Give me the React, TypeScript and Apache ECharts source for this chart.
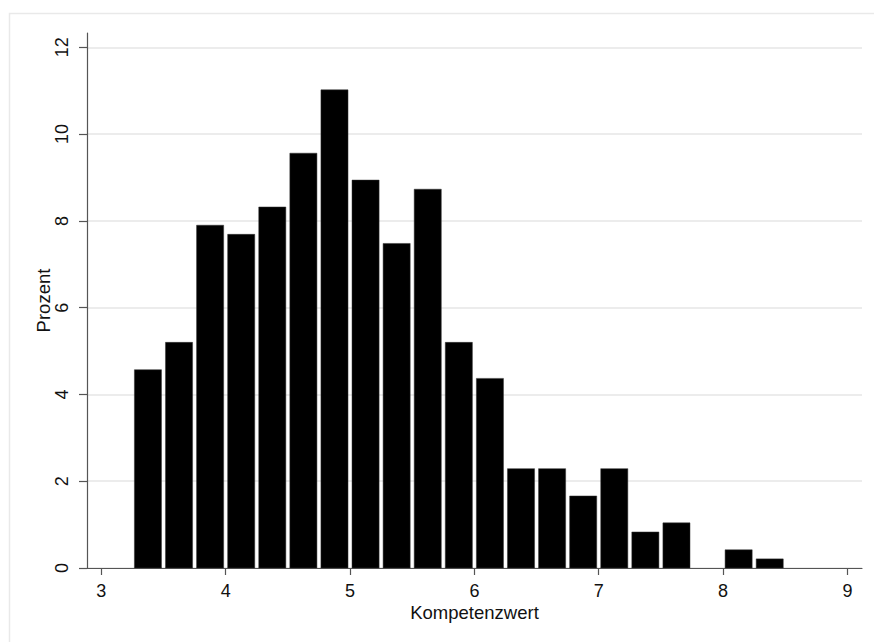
import React, { useEffect, useRef } from "react";
import * as echarts from "echarts";

// Histogram bins (left/right edges) and percentage heights
const binStarts = [3.25, 3.5, 3.75, 4.0, 4.25, 4.5, 4.75, 5.0, 5.25, 5.5, 5.75, 6.0, 6.25, 6.5, 6.75, 7.0, 7.25, 7.5, 7.75, 8.0, 8.25];
const binEnds = [3.5, 3.75, 4.0, 4.25, 4.5, 4.75, 5.0, 5.25, 5.5, 5.75, 6.0, 6.25, 6.5, 6.75, 7.0, 7.25, 7.5, 7.75, 8.0, 8.25, 8.5];
const percents = [4.57, 5.2, 7.9, 7.69, 8.32, 9.56, 11.02, 8.94, 7.48, 8.73, 5.2, 4.37, 2.29, 2.29, 1.66, 2.29, 0.83, 1.04, 0, 0.42, 0.21];

const xTicks = [3, 4, 5, 6, 7, 8, 9];
const yTicks = [0, 2, 4, 6, 8, 10, 12];

const xTitle = "Kompetenzwert";
const yTitle = "Prozent";

const FONT = "'Liberation Sans', Arial, Helvetica, sans-serif";

export default function App() {
  const ref = useRef<HTMLDivElement>(null);

  useEffect(() => {
    if (!ref.current) return;
    const chart = echarts.init(ref.current, null, { renderer: "svg" });
    const data = binStarts.map((s, i) => [s, binEnds[i], percents[i]]);
    chart.setOption({
      animation: false,
      backgroundColor: "#ffffff",
      textStyle: { fontFamily: FONT },
      graphic: [
        {
          type: "rect",
          left: 7,
          top: 11,
          shape: { x: 0, y: 0, width: 900, height: 700 },
          style: { fill: "none", stroke: "#e9e9e9", lineWidth: 1.5 },
          silent: true,
          z: -10,
        },
      ],
      grid: { left: 87, right: 12, top: 33, bottom: 74, containLabel: false },
      xAxis: {
        type: "value",
        min: 2.885,
        max: 9.117,
        name: xTitle,
        nameLocation: "middle",
        nameGap: 35,
        nameMoveOverlap: false,
        nameTextStyle: { fontSize: 18.5, color: "#111", fontFamily: FONT },
        axisLine: { show: true, onZero: false, lineStyle: { color: "#555", width: 1.2 } },
        axisTick: { show: true, length: 7, customValues: xTicks, lineStyle: { color: "#555", width: 1.2 } },
        axisLabel: { customValues: xTicks, fontSize: 18, color: "#111", margin: 14, fontFamily: FONT },
        splitLine: { show: false },
      },
      yAxis: {
        type: "value",
        min: 0,
        max: 12.33,
        name: yTitle,
        nameLocation: "middle",
        nameRotate: 90,
        nameGap: 34,
        nameMoveOverlap: false,
        nameTextStyle: { fontSize: 18.5, color: "#111", fontFamily: FONT },
        axisLine: { show: true, lineStyle: { color: "#555", width: 1.2 } },
        axisTick: { show: true, length: 8, customValues: yTicks, lineStyle: { color: "#555", width: 1.2 } },
        axisLabel: { customValues: yTicks, rotate: 90, fontSize: 18, color: "#111", margin: 16, fontFamily: FONT },
        splitLine: { show: true, lineStyle: { color: "#e6e6e6", width: 1.5 } },
      },
      series: [
        {
          type: "custom",
          data,
          encode: { x: [0, 1], y: 2 },
          renderItem: (params: any, api: any) => {
            const x0 = api.value(0);
            const x1 = api.value(1);
            const v = api.value(2);
            if (!v) return null;
            const p0 = api.coord([x0, v]);
            const p1 = api.coord([x1, 0]);
            return {
              type: "rect",
              shape: { x: p0[0] + 2, y: p0[1], width: p1[0] - p0[0] - 4, height: p1[1] - p0[1] },
              style: { fill: "#000000", stroke: "#333", lineWidth: 0.5 },
            };
          },
        },
      ],
    });
    return () => chart.dispose();
  }, []);

  return (
    <div
      ref={ref}
      style={{ position: "fixed", left: 0, top: 0, width: 874, height: 642, background: "#fff" }}
    />
  );
}
